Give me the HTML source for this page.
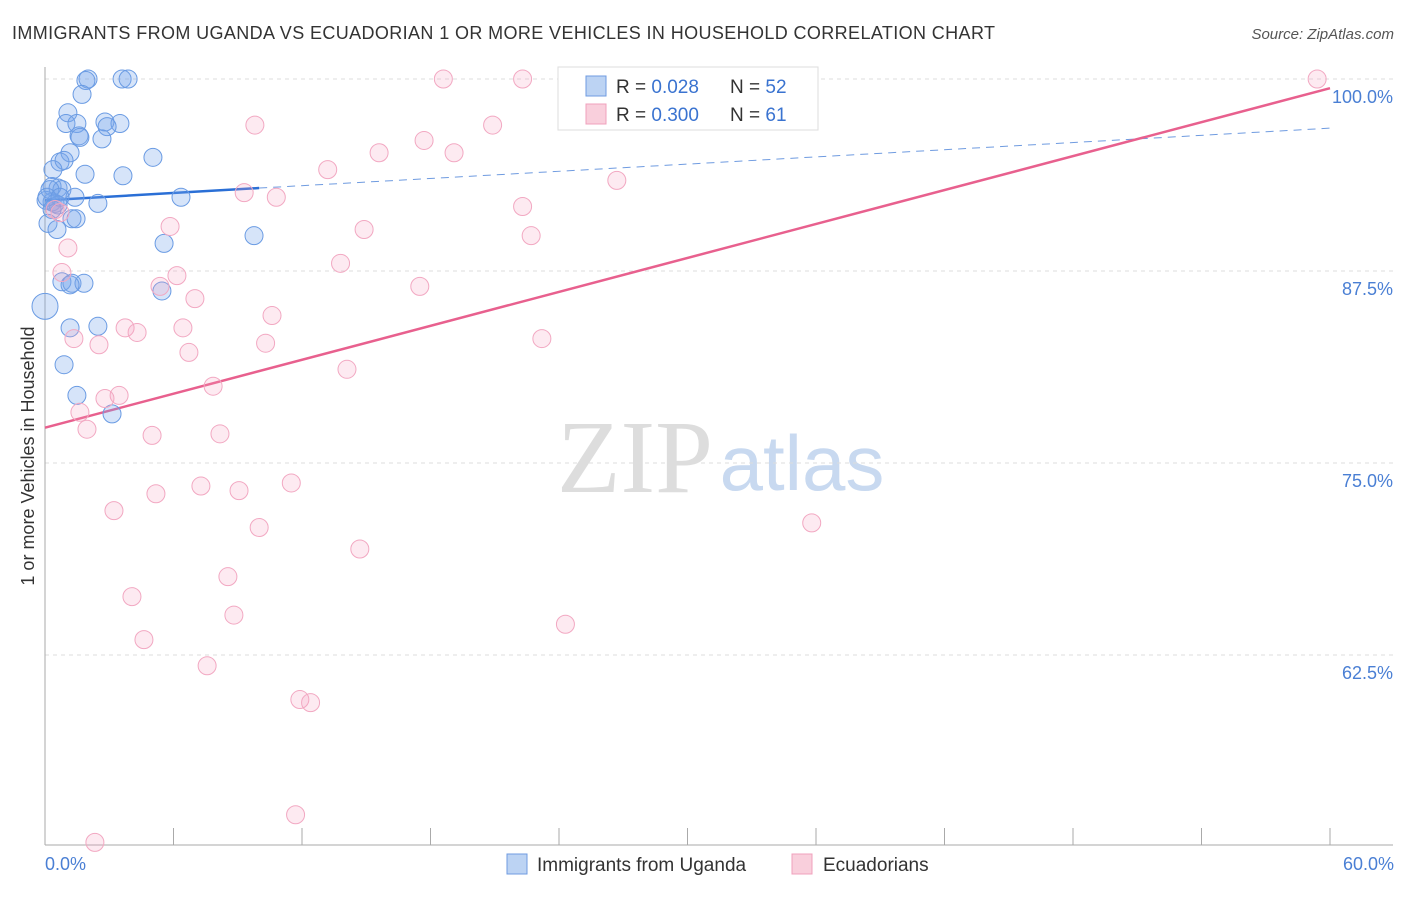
<!DOCTYPE html>
<html><head><meta charset="utf-8"><style>
body{margin:0;background:#fff;font-family:"Liberation Sans",sans-serif}
</style></head><body>
<svg id="chart" width="1406" height="892" viewBox="0 0 1406 892" xmlns="http://www.w3.org/2000/svg" font-family="Liberation Sans, sans-serif">
<text x="12" y="39" font-size="18" fill="#333" textLength="983">IMMIGRANTS FROM UGANDA VS ECUADORIAN 1 OR MORE VEHICLES IN HOUSEHOLD CORRELATION CHART</text>
<text x="1394" y="39" font-size="15" fill="#555" text-anchor="end" font-style="italic">Source: ZipAtlas.com</text>
<g>
<text x="635" y="492" font-size="104" fill="#ddd" text-anchor="middle" font-family="Liberation Serif, serif">ZIP</text>
<text x="802" y="490" font-size="78" fill="#c8d9f0" text-anchor="middle">atlas</text>
</g>
<g id="grid"></g>
<g id="axes"></g>
<g id="trend"></g>
<g id="pts"></g>
<text transform="translate(34,456) rotate(-90)" font-size="18" fill="#333" text-anchor="middle">1 or more Vehicles in Household</text>
<text x="45" y="870" font-size="18" fill="#4a7fd4">0.0%</text>
<text x="1394" y="870" font-size="18" fill="#4a7fd4" text-anchor="end">60.0%</text>
<g>
<rect x="558" y="67" width="260" height="63" fill="#fff" stroke="#ddd"/>
<rect x="586" y="76" width="20" height="20" fill="#bcd3f3" stroke="#6f9be0"/>
<rect x="586" y="104" width="20" height="20" fill="#f9cfdc" stroke="#f0a0bc"/>
<text x="616" y="93" font-size="19" fill="#333">R = <tspan fill="#3a73d0">0.028</tspan></text>
<text x="730" y="93" font-size="19" fill="#333">N = <tspan fill="#3a73d0">52</tspan></text>
<text x="616" y="121" font-size="19" fill="#333">R = <tspan fill="#3a73d0">0.300</tspan></text>
<text x="730" y="121" font-size="19" fill="#333">N = <tspan fill="#3a73d0"> 61</tspan></text>
</g>
<g>
<rect x="507" y="854" width="20" height="20" fill="#bcd3f3" stroke="#6f9be0"/>
<text x="537" y="871" font-size="19" fill="#333">Immigrants from Uganda</text>
<rect x="792" y="854" width="20" height="20" fill="#f9cfdc" stroke="#f0a0bc"/>
<text x="823" y="871" font-size="19" fill="#333">Ecuadorians</text>
</g>
</svg>
<script>
const yTicks=[100,87.5,75,62.5];
const yTickLabels=["100.0%","87.5%","75.0%","62.5%"];
const xTicks=[0,6,12,18,24,30,36,42,48,54,60];
const ugandaX=[2.01,1.91,3.60,3.88,1.73,1.07,0.98,1.49,2.80,3.50,2.90,1.59,1.63,2.66,5.04,1.17,0.70,0.89,0.37,1.87,3.64,0.33,0.61,0.79,1.40,6.35,2.47,0.33,0.47,0.05,0.14,0.56,1.26,1.45,9.76,5.56,0.79,1.26,1.82,1.17,5.46,0,1.17,2.47,0.89,1.49,3.13,0.23,0.61,0.09,0.70,0.33];
const ugandaY=[100,99.9,100,100,99.0,97.8,97.1,97.1,97.2,97.1,96.9,96.3,96.2,96.1,94.9,95.2,94.6,94.7,94.1,93.8,93.7,93.0,92.9,92.8,92.3,92.3,91.9,92.0,91.9,92.1,90.6,90.2,90.9,90.9,89.8,89.3,86.8,86.7,86.7,86.6,86.2,85.2,83.8,83.9,81.4,79.4,78.2,92.8,91.8,92.3,92.3,91.5];
const ecuX=[18.6,22.3,59.4,27.0,9.8,20.9,17.7,15.6,19.1,13.2,26.7,9.3,10.8,22.3,0.47,0.70,5.84,14.9,22.7,1.07,13.8,0.79,6.16,17.5,5.37,7.00,10.6,3.74,6.44,4.30,1.35,2.52,10.3,23.2,6.72,14.1,7.85,3.46,2.80,1.63,1.96,5.00,8.17,7.28,5.18,9.06,11.5,3.22,35.8,10.0,14.7,8.54,4.06,8.82,24.3,4.62,7.57,11.9,12.4,11.7,2.33];
const ecuY=[100,100,100,97.8,97.0,97.0,96.0,95.2,95.2,94.1,93.4,92.6,92.3,91.7,91.5,91.3,90.4,90.2,89.8,89.0,88.0,87.4,87.2,86.5,86.5,85.7,84.6,83.8,83.8,83.5,83.1,82.7,82.8,83.1,82.2,81.1,80.0,79.4,79.2,78.3,77.2,76.8,76.9,73.5,73.0,73.2,73.7,71.9,71.1,70.8,69.4,67.6,66.3,65.1,64.5,63.5,61.8,59.6,59.4,52.1,50.3];
const ugandaTrend=[92.1,92.9,96.8]; // at x=0,10,60
const ecuTrend=[77.3,99.4]; // at x=0,60
const NS="http://www.w3.org/2000/svg";
const X=v=>45+v/60*1285, Y=v=>79+(100-v)/12.5*192;
function mk(tag,attrs,parent){const e=document.createElementNS(NS,tag);for(const k in attrs)e.setAttribute(k,attrs[k]);document.getElementById(parent).appendChild(e);return e;}
yTicks.forEach((t,i)=>{
 const l=mk('line',{x1:45,x2:1393,y1:Y(t),y2:Y(t),stroke:'#ddd','stroke-dasharray':'4,4'},'grid');
 
 
 const tx=mk('text',{x:1393,y:Y(t)+24,'font-size':18,fill:'#4a7fd4','text-anchor':'end'},'grid');
 tx.textContent=yTickLabels[i];
 
 
});
const ax=mk('line',{x1:45,x2:1393,y1:845,y2:845,stroke:'#aaa'},'axes');


const ay=mk('line',{x1:45,x2:45,y1:67,y2:845,stroke:'#aaa'},'axes');


xTicks.forEach(t=>{const e=mk('line',{x1:X(t),x2:X(t),y1:828,y2:845,stroke:'#aaa'},'axes');
 
 });
function pts(xs,ys,fill,stroke,name){xs.forEach((x,i)=>{const c=mk('circle',{cx:X(x),cy:Y(ys[i]),r:(name==='uganda-point'&&x===0)?13:9,fill:fill,stroke:stroke,'stroke-width':1},'pts');
 
 });}
pts(ugandaX,ugandaY,'rgba(120,165,235,0.3)','#6a9be3','uganda-point');
pts(ecuX,ecuY,'rgba(245,160,190,0.22)','#f2a8c2','ecuadorian-point');
let t1=mk('line',{x1:X(0),y1:Y(ugandaTrend[0]),x2:X(10),y2:Y(ugandaTrend[1]),stroke:'#2a6fd6','stroke-width':2.5},'trend');


let t2=mk('line',{x1:X(10),y1:Y(ugandaTrend[1]),x2:X(60),y2:Y(ugandaTrend[2]),stroke:'#6f9be0','stroke-width':1,'stroke-dasharray':'8,6'},'trend');


let t3=mk('line',{x1:X(0),y1:Y(ecuTrend[0]),x2:X(60),y2:Y(ecuTrend[1]),stroke:'#e8608e','stroke-width':2.5},'trend');


</script>
</body></html>
